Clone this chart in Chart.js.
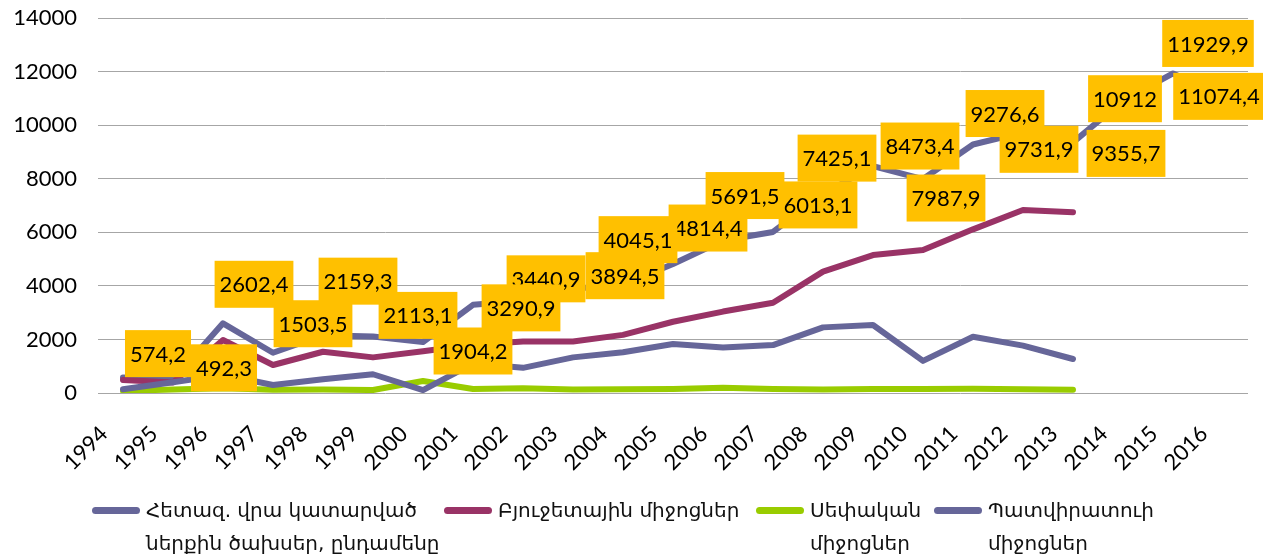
<!DOCTYPE html>
<html>
<head>
<meta charset="utf-8">
<script src="https://cdn.jsdelivr.net/npm/chart.js"></script>
<style>
  html, body { margin: 0; padding: 0; background: #fff; }
  #wrap { position: relative; width: 1263px; height: 558px; }
  #legend {
    position: absolute; left: 92px; top: 494px;
    display: flex; align-items: flex-start;
    font-family: 'DejaVu Sans', sans-serif; font-size: 20px; line-height: 33px; color: #111;
  }
  .item { display: flex; align-items: flex-start; }
  .swatch { width: 48px; height: 7px; border-radius: 4px; margin-top: 13px; margin-right: 6px; flex: none; }
</style>
</head>
<body>
<div id="wrap">
  <canvas id="chart" width="1263" height="558"></canvas>
  <div id="legend"></div>
</div>
<script>
'use strict';

// ************************* DATA **********************************
const years = ['1994', '1995', '1996', '1997', '1998', '1999', '2000', '2001', '2002', '2003', '2004',
  '2005', '2006', '2007', '2008', '2009', '2010', '2011', '2012', '2013', '2014', '2015', '2016'];
const totalSpend = [574.2, 492.3, 2602.4, 1503.5, 2159.3, 2113.1, 1904.2, 3290.9, 3440.9, 3894.5, 4045.1,
  4814.4, 5691.5, 6013.1, 7425.1, 8473.4, 7987.9, 9276.6, 9731.9, 9355.7, 10912, 11929.9, 11074.4];
const budgetFunds = [485, 390, 1980, 1045, 1540, 1330, 1560, 1800, 1920, 1920, 2170,
  2660, 3040, 3370, 4530, 5150, 5340, 6110, 6830, 6750];
const ownFunds = [80, 130, 180, 120, 130, 110, 450, 150, 180, 130, 140,
  150, 200, 150, 130, 150, 150, 160, 140, 125];
const customerFunds = [140, 400, 680, 300, 510, 700, 110, 1100, 940, 1330, 1520,
  1830, 1700, 1790, 2450, 2540, 1200, 2100, 1770, 1270];
const seriesNames = [
  ['Հետազ. վրա կատարված', 'ներքին ծախսեր, ընդամենը'],
  ['Բյուջետային միջոցներ'],
  ['Սեփական', 'միջոցներ'],
  ['Պատվիրատուի', 'միջոցներ']
];
const seriesColors = ['#666699', '#993366', '#99CC00', '#666699'];

// where each yellow value box sits, relative to its point (box centre)
const labelShift = [[35, -24], [51, -12], [31, -39], [40, -29], [35, -54], [45, -21], [50, 9], [48, 3],
  [23, -22], [52, -13], [15, -45], [35, -36], [22, -45], [45, -27], [14, -36], [47, -20], [23, 19],
  [32, -31], [16, 17], [53, 11], [2, -2], [35, -30], [-4, 0]];

// ************************ HELPERS ********************************
const tickFont = { family: 'Lato', size: 22 };
const formatValue = v => String(v).replace('.', ',');

const boxLabels = {
  id: 'boxLabels',
  afterDatasetsDraw(chart) {
    const ctx = chart.ctx;
    const meta = chart.getDatasetMeta(0);
    ctx.save();
    ctx.font = '22px Lato';
    ctx.textAlign = 'center';
    ctx.textBaseline = 'middle';
    // drawn backwards so earlier boxes sit on top, as in the original
    for (let i = meta.data.length - 1; i >= 0; i--) {
      const pt = meta.data[i];
      const text = formatValue(totalSpend[i]);
      const w = ctx.measureText(text).width + 10;
      const h = 47;
      const cx = pt.x + labelShift[i][0];
      const cy = pt.y + labelShift[i][1];
      ctx.fillStyle = '#FFC000';
      ctx.fillRect(cx - w / 2, cy - h / 2, w, h);
      ctx.fillStyle = '#000';
      ctx.fillText(text, cx, cy + 1);
    }
    ctx.restore();
  }
};

function buildLegend() {
  const legend = document.getElementById('legend');
  const widths = [352, 312, 178, 260];
  seriesNames.forEach((name, i) => {
    const item = document.createElement('div');
    item.className = 'item';
    item.style.width = widths[i] + 'px';
    const swatch = document.createElement('span');
    swatch.className = 'swatch';
    swatch.style.background = seriesColors[i];
    const text = document.createElement('span');
    text.innerHTML = name.join('<br>');
    item.appendChild(swatch);
    item.appendChild(text);
    legend.appendChild(item);
  });
}

// **************** CHART *************************
const seriesData = [totalSpend, budgetFunds, ownFunds, customerFunds];

new Chart(document.getElementById('chart'), {
  type: 'line',
  data: {
    labels: years,
    datasets: seriesData.map((data, i) => ({
      label: seriesNames[i].join(' '),
      data: data,
      borderColor: seriesColors[i],
      backgroundColor: seriesColors[i],
      order: 4 - i
    }))
  },
  options: {
    responsive: false,
    animation: false,
    layout: { padding: { top: 18, right: 15, bottom: 70, left: 0 } },
    elements: {
      point: { radius: 0, hoverRadius: 0 },
      line: { borderWidth: 6, borderCapStyle: 'round', borderJoinStyle: 'round', tension: 0 }
    },
    plugins: {
      legend: { display: false },
      tooltip: { enabled: false }
    },
    scales: {
      x: {
        offset: true,
        grid: { display: false },
        border: { display: false },
        ticks: {
          autoSkip: false, minRotation: 45, maxRotation: 45,
          font: tickFont, color: '#000', labelOffset: -19, padding: 20
        },
        afterFit: scale => { scale.height = 95; }
      },
      y: {
        min: 0, max: 14000,
        // invisible tick marks push the labels away from the plot
        grid: { color: '#A6A6A6', drawTicks: true, tickLength: 21, tickColor: 'rgba(0,0,0,0)' },
        border: { display: false },
        ticks: { stepSize: 2000, font: tickFont, color: '#000', padding: 0, callback: v => String(v) },
        afterFit: scale => { scale.width = 98; }
      }
    }
  },
  plugins: [boxLabels]
});

buildLegend();
</script>
</body>
</html>
